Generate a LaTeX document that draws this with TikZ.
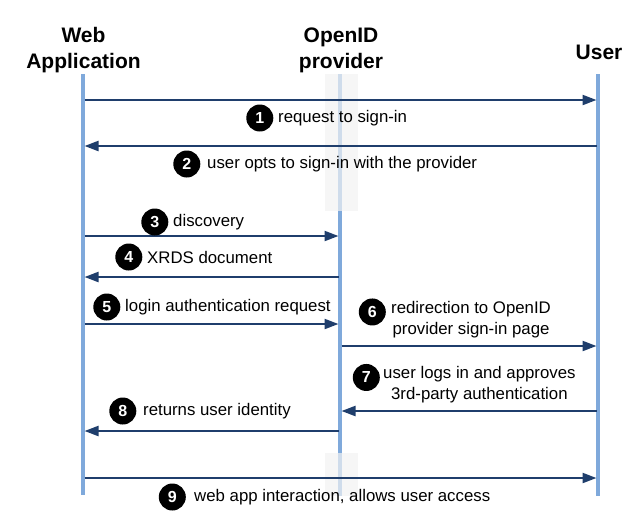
\documentclass[tikz,border=0pt]{standalone}
\usepackage{fontspec}
\setmainfont{Liberation Sans}
\usetikzlibrary{arrows.meta}
\usetikzlibrary{positioning}
\usetikzlibrary{calc}
\definecolor{lifeblue}{HTML}{7FA9DB}
\definecolor{msgblue}{HTML}{1F3E6C}
\definecolor{boxgray}{HTML}{F2F2F2}
\tikzset{
  actor/.style={font=\bfseries\fontsize{21}{26}\selectfont, align=center, inner sep=0pt},
  lifeline/.style={line width=3.5pt, color=lifeblue},
  msg/.style={line width=2.2pt, color=msgblue, shorten <=1.5pt, shorten >=1.5pt,
    -{Triangle[length=14pt,width=10pt]}},
  num/.style={circle, fill=black, text=white, inner sep=0pt, minimum size=27pt,
    font=\bfseries\fontsize{16}{16}\selectfont},
  lbl/.style={font=\fontsize{16.8}{21}\selectfont, align=center, inner sep=0pt, anchor=west}
}
\begin{document}
\begin{tikzpicture}[x=1pt,y=-1pt]
  \useasboundingbox (0,0) rectangle (636,528);
  % actors
  \node[actor, anchor=base] (web) at (83.5,68) {Web\\Application};
  \node[actor, anchor=base] (idp) at (341,68) {OpenID\\provider};
  \node[actor, anchor=base] (user) at (599,59) {User};
  % lifelines
  \coordinate (webtop) at (83,74);
  \coordinate (webbot) at (83,495);
  \coordinate (idptop) at (340,74);
  \coordinate (idpbot) at (340,496);
  \coordinate (usertop) at (598,74);
  \coordinate (userbot) at (598,496);
  \draw[lifeline] (webtop) -- (webbot);
  \draw[lifeline] (idptop) -- (idpbot);
  \draw[lifeline] (usertop) -- (userbot);
  % provider not involved
  \fill[boxgray, opacity=0.7] (325,74) rectangle (358,211);
  \fill[boxgray, opacity=0.7] (325,453) rectangle (358,496);
  % message rows
  \foreach \r/\y in {1/100,2/146,3/236,4/277,5/324,6/346,7/411,8/431,9/478} {
    \coordinate (w\r) at (83,\y);
    \coordinate (o\r) at (340,\y);
    \coordinate (u\r) at (598,\y);
  }
  \draw[msg] (w1) -- (u1);
  \draw[msg] (u2) -- (w2);
  \draw[msg] (w3) -- (o3);
  \draw[msg] (o4) -- (w4);
  \draw[msg] (w5) -- (o5);
  \draw[msg] (o6) -- (u6);
  \draw[msg] (u7) -- (o7);
  \draw[msg] (o8) -- (w8);
  \draw[msg] (w9) -- (u9);
  % labels
  \node[lbl] (t1) at (278,118) {request to sign-in};
  \node[lbl] (t2) at (207,164) {user opts to sign-in with the provider};
  \node[lbl] (t3) at (173,222) {discovery};
  \node[lbl] (t4) at (147,257) {XRDS document};
  \node[lbl] (t5) at (125,307) {login authentication request};
  \node[lbl] (t6) at (391,319.5) {redirection to OpenID\\provider sign-in page};
  \node[lbl] (t7) at (383,385) {user logs in and approves\\3rd-party authentication};
  \node[lbl] (t8) at (143,411) {returns user identity};
  \node[lbl] (t9) at (194,497) {web app interaction, allows user access};
  \node[num, left=4.5pt of t1] (n1) {1};
  \node[num, left=6.5pt of t2] (n2) {2};
  \node[num, left=4.5pt of t3] (n3) {3};
  \node[num, left=4.5pt of t4] (n4) {4};
  \node[num, left=4.5pt of t5] (n5) {5};
  \node[num, anchor=east] (n6) at ($(t6.north west)+(-5,11)$) {6};
  \node[num, anchor=east] (n7) at ($(t7.north west)+(-3,11)$) {7};
  \node[num, left=6.5pt of t8] (n8) {8};
  \node[num, left=8pt of t9] (n9) {9};
\end{tikzpicture}
\end{document}
